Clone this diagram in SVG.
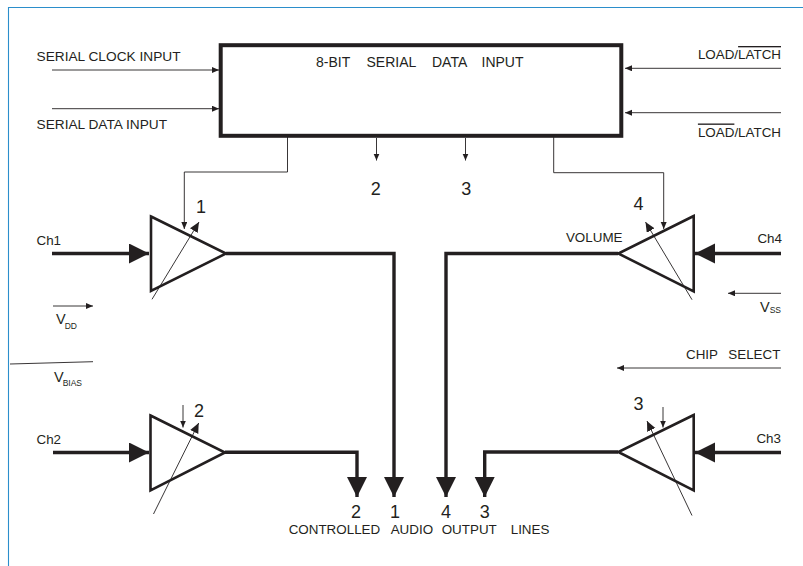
<svg xmlns="http://www.w3.org/2000/svg" width="803" height="566" viewBox="0 0 803 566">
<style>
text{font-family:"Liberation Sans",Arial,sans-serif;fill:#231f20;font-size:13.4px}
.t{font-size:14px}
.s{font-size:13.7px}
.n{font-size:18px}
.v{font-size:14.5px}
.e{text-anchor:end}
.m{text-anchor:middle}
.ov{text-decoration:overline}
.sub{font-size:8.5px}
.amp{fill:#fff;stroke:#231f20;stroke-width:2.6;stroke-linejoin:miter}
.thin{fill:none;stroke:#231f20;stroke-width:0.9;marker-end:url(#s)}
.plain{fill:none;stroke:#231f20;stroke-width:0.9}
.diag{fill:none;stroke:#231f20;stroke-width:0.9;marker-end:url(#d)}
.thick{fill:none;stroke:#231f20;stroke-width:3.4;marker-end:url(#b)}
.frame{fill:none;stroke:#2b8ecb;stroke-width:1.1}
</style>
<defs>
<marker id="s" markerUnits="userSpaceOnUse" markerWidth="8" markerHeight="7" refX="7" refY="3" orient="auto"><path d="M0 0L7 3L0 6Z" fill="#231f20"/></marker>
<marker id="d" markerUnits="userSpaceOnUse" markerWidth="11" markerHeight="10" refX="10" refY="4.5" orient="auto"><path d="M0 0L10 4.500L0 9Z" fill="#231f20"/></marker>
<marker id="b" markerUnits="userSpaceOnUse" markerWidth="21" markerHeight="21" refX="20" refY="10" orient="auto"><path d="M0 0L20 10L0 20Z" fill="#231f20"/></marker>
</defs>
<rect width="803" height="566" fill="#fff"/>
<path class="frame" d="M803 7.500H8.500V566"/>
<g id="register">
<rect x="220.700" y="45.200" width="400.600" height="90.600" fill="#fff" stroke="#231f20" stroke-width="4"/>
<text class="t" x="316" y="67">8-BIT</text><text class="t" x="366.500" y="67">SERIAL</text><text class="t" x="432" y="67">DATA</text><text class="t" x="481.500" y="67">INPUT</text>
</g>
<g id="connectors">
<path class="thin" d="M52 70H219"/>
<path class="thin" d="M52 108.700H219"/>
<path class="thin" d="M781 68.300H625"/>
<path class="thin" d="M781 112.700H625"/>
<path class="thin" d="M376.500 138V160.500"/>
<path class="thin" d="M465.500 138V160.500"/>
<path class="thin" d="M287.500 137V172H184.300V229"/>
<path class="thin" d="M553.700 137V172.700H663.700V229"/>
<path class="thin" d="M183 405V427.500"/>
<path class="thin" d="M663 407V427.500"/>
<path class="thin" d="M53 306H93"/>
<path class="plain" d="M10 364L93 361.700"/>
<path class="thin" d="M781 293.300H728"/>
<path class="thin" d="M781 368H617"/>
<path class="thick" d="M52 253.500H149"/>
<path class="thick" d="M53 452.500H149"/>
<path class="thick" d="M781 253.500H695"/>
<path class="thick" d="M781 452.500H695"/>
<path class="thick" d="M226 253.500H394V497"/>
<path class="thick" d="M225 452.300H357V497"/>
<path class="thick" d="M618 253.500H446V497"/>
<path class="thick" d="M618 452H484.700V497"/>
</g>
<g id="amp1"><path class="amp" d="M151 216.500L226 253.500L151 291Z"/><path class="diag" d="M152 299.300L199 222"/><text class="n m" x="201" y="213">1</text></g>
<g id="amp2"><path class="amp" d="M150.500 415.500L225 452.500L150.500 490.500Z"/><path class="diag" d="M153.500 514L198.700 423"/><text class="n m" x="199" y="417">2</text></g>
<g id="amp4"><path class="amp" d="M693.700 216L618.300 253.500L693.700 291.500Z"/><path class="diag" d="M692 299.700L645.500 222"/><text class="n m" x="638.500" y="210">4</text></g>
<g id="amp3"><path class="amp" d="M693.700 415L618.300 452L693.700 490.500Z"/><path class="diag" d="M692 515.500L647 421"/><text class="n m" x="638.500" y="409.500">3</text></g>
<g id="labels">
<text class="s" x="36.500" y="61">SERIAL CLOCK INPUT</text>
<text class="s" x="36.500" y="129">SERIAL DATA INPUT</text>
<text class="e" x="781" y="59">LOAD/<tspan class="ov">LATCH</tspan></text>
<text class="e" x="781" y="136.500"><tspan class="ov">LOAD</tspan>/LATCH</text>
<text x="36.500" y="244.500">Ch1</text>
<text x="36.500" y="443.500">Ch2</text>
<text class="e" x="782" y="242.500">Ch4</text>
<text class="e" x="781" y="442.500">Ch3</text>
<text class="e" x="622.500" y="242">VOLUME</text>
<text class="n m" x="375.700" y="195">2</text>
<text class="n m" x="466.300" y="195">3</text>
<text class="v" x="56" y="324">V<tspan class="sub" dx="-1" dy="5">DD</tspan></text>
<text class="v" x="54" y="382">V<tspan class="sub" dx="-1" dy="4">BIAS</tspan></text>
<text class="v e" x="781" y="311.500">V<tspan class="sub" dy="1">SS</tspan></text>
<text x="686" y="359">CHIP</text><text x="728.300" y="359">SELECT</text>
<text class="n m" x="356" y="518">2</text>
<text class="n m" x="395" y="518">1</text>
<text class="n m" x="446" y="517.500">4</text>
<text class="n m" x="484.700" y="517.500">3</text>
<text x="288.700" y="533.500">CONTROLLED</text><text x="390.700" y="533.500">AUDIO</text><text x="441.700" y="533.500">OUTPUT</text><text x="510.700" y="533.500">LINES</text>
</g>
</svg>
